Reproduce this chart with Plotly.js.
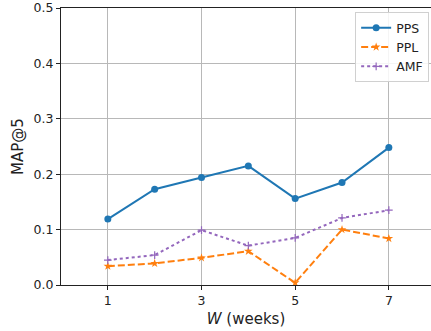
<!DOCTYPE html>
<html>
<head>
<meta charset="utf-8">
<script src="https://cdn.plot.ly/plotly-3.0.1.min.js"></script>
<style>html,body{margin:0;padding:0;background:#fff;}#chart{width:431px;height:331px;}</style>
</head>
<body>
<div id="chart"></div>
<script>
var weeks = [1, 2, 3, 4, 5, 6, 7];
var ppsValues = [0.119, 0.173, 0.194, 0.215, 0.156, 0.185, 0.248];
var pplValues = [0.034, 0.039, 0.049, 0.061, 0.004, 0.100, 0.084];
var amfValues = [0.045, 0.054, 0.099, 0.071, 0.085, 0.121, 0.135];
var xTicks = [1, 3, 5, 7];
var yTicks = [0.0, 0.1, 0.2, 0.3, 0.4, 0.5];

var traces = [
  {x: weeks, y: ppsValues, name: 'PPS', type: 'scatter', mode: 'lines+markers',
   line: {color: '#1f77b4', width: 2}, marker: {symbol: 'circle', size: 7, color: '#1f77b4'}},
  {x: weeks, y: pplValues, name: 'PPL', type: 'scatter', mode: 'lines+markers',
   line: {color: '#ff7f0e', width: 2, dash: '7px,3px'}, marker: {symbol: 'star', size: 6.5, color: '#ff7f0e'}},
  {x: weeks, y: amfValues, name: 'AMF', type: 'scatter', mode: 'lines+markers',
   line: {color: '#9467bd', width: 2, dash: 'dot'}, marker: {symbol: 'cross-thin', size: 5.5, line: {color: '#9467bd', width: 1.2}}}
];

var layout = {
  width: 431, height: 331,
  margin: {l: 61, r: 0, t: 8, b: 46},
  paper_bgcolor: '#fff', plot_bgcolor: '#fff',
  font: {family: 'DejaVu Sans', size: 12.5, color: '#222'},
  showlegend: true,
  legend: {x: 0.995, xanchor: 'right', y: 0.985, yanchor: 'top', bgcolor: 'rgba(255,255,255,0.85)',
           bordercolor: '#d0d0d0', borderwidth: 1, font: {size: 12.5, color: '#222'}, itemwidth: 30},
  xaxis: {range: [0, 7.9], tickvals: xTicks, ticktext: xTicks.map(String), showgrid: true, gridcolor: '#b8b8b8', gridwidth: 1,
          showline: true, linecolor: '#222', linewidth: 1, mirror: true, ticks: 'outside', ticklen: 4, tickcolor: '#222',
          zeroline: false, title: {text: '<i>W</i> (weeks)', font: {size: 15, color: '#222'}, standoff: 6}},
  yaxis: {range: [0, 0.5], tickvals: yTicks, ticktext: yTicks.map(function(v){return v.toFixed(1);}), showgrid: true, gridcolor: '#b8b8b8', gridwidth: 1,
          showline: true, linecolor: '#222', linewidth: 1, ticks: 'outside', ticklen: 4, tickcolor: '#222',
          zeroline: false, title: {text: 'MAP@5', font: {size: 15, color: '#222'}, standoff: 6}}
};
Plotly.newPlot('chart', traces, layout, {displayModeBar: false, staticPlot: true});
</script>
</body>
</html>
